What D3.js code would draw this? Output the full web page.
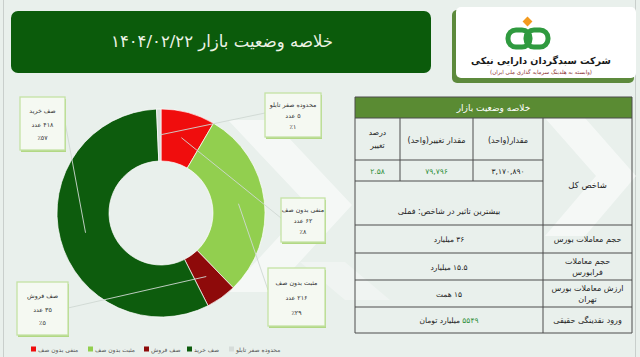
<!DOCTYPE html>
<html><head><meta charset="utf-8">
<script src="https://cdn.jsdelivr.net/npm/d3@7"></script>
<style>
html,body{margin:0;padding:0;background:#e9f0ec;}
svg{display:block;font-family:"DejaVu Sans",sans-serif;}
</style></head>
<body>
<svg id="c" width="640" height="357"></svg>
<script>
// ---------------- DATA ----------------
const titleText = "خلاصه وضعیت بازار ۱۴۰۴/۰۲/۲۲";
const companyName = "شرکت سبدگردان دارایی نیکی";
const companySub = "(وابسته به هلدینگ سرمایه گذاری ملی ایران)";

const categories = ["منفی بدون صف", "مثبت بدون صف", "صف فروش", "صف خرید", "محدوده صفر تابلو"];
const counts = [62, 216, 35, 418, 5];
const percents = [8, 29, 5, 57, 1];
const colors = ["#f00d0d", "#92cf4f", "#8e0a0a", "#0d5c0d", "#d6dcd9"];

const tableTitle = "خلاصه وضعیت بازار";
const indexLabel = "شاخص کل";
const indexColumns = [["مقدار(واحد)"], ["مقدار تغییر(واحد)"], ["درصد", "تغییر"]];
const indexValues = ["۳,۱۷۰,۸۹۰", "۷۹,۷۹۶", "۲.۵۸"];
const topImpact = "بیشترین تاثیر در شاخص: فملی";
const rowLabels = [["حجم معاملات بورس"], ["حجم معاملات", "فرابورس"], ["ارزش معاملات بورس", "تهران"], ["ورود نقدینگی حقیقی"]];
const rowValues = [["", "۳۶ میلیارد"], ["", "۱۵.۵ میلیارد"], ["", "۱۵ همت"], ["۵۵۴۹", " میلیارد تومان"]];

// ---------------- HELPERS ----------------
const fa = s => String(s).replace(/\d/g, d => "۰۱۲۳۴۵۶۷۸۹"[d]);
const svg = d3.select("#c");
const ink = "#222";

// background
svg.append("rect").attr("width", 640).attr("height", 357).attr("fill", "#e9f0ec");
svg.append("rect").attr("x", 3.5).attr("y", -1).attr("width", 632).attr("height", 360)
  .attr("fill", "none").attr("stroke", "#c9cfcc");

// watermark
const wm = svg.append("g").attr("fill", "#ffffff").attr("opacity", 0.55);
wm.append("polygon").attr("points", "228,120 272,120 352,205 272,292 228,292 308,205");
wm.append("polygon").attr("points", "545,118 585,118 636,176 585,236 545,236 596,176");
wm.append("polygon").attr("points", "300,262 345,262 390,300 345,300").attr("opacity", 0.6);

// title bar
svg.append("rect").attr("x", 11).attr("y", 11).attr("width", 420).attr("height", 62)
  .attr("rx", 7).attr("fill", "#0b5b0b");
svg.append("text").attr("x", 222).attr("y", 47).attr("text-anchor", "middle")
  .attr("direction", "rtl").attr("fill", "#eef3e6").attr("font-size", 16.5).text(titleText);

// logo box
svg.append("rect").attr("x", 452).attr("y", 10).attr("width", 182).attr("height", 73)
  .attr("rx", 5).attr("fill", "#5d8a3c");
svg.append("rect").attr("x", 456).attr("y", 7).attr("width", 180).attr("height", 71)
  .attr("rx", 5).attr("fill", "#ffffff");
const logo = svg.append("g");
logo.append("rect").attr("x", 508).attr("y", 30).attr("width", 22).attr("height", 17).attr("rx", 8)
  .attr("fill", "none").attr("stroke", "#2f9a3f").attr("stroke-width", 5);
logo.append("rect").attr("x", 526).attr("y", 30).attr("width", 22).attr("height", 17).attr("rx", 8)
  .attr("fill", "none").attr("stroke", "#2f9a3f").attr("stroke-width", 5);
logo.append("rect").attr("x", 524).attr("y", 18).attr("width", 7).attr("height", 7)
  .attr("transform", "rotate(45 527.5 21.5)").attr("fill", "#f39a1e");
svg.append("text").attr("x", 541).attr("y", 64).attr("text-anchor", "middle").attr("direction", "rtl")
  .attr("font-size", 9.5).attr("font-weight", "bold").attr("fill", "#1a1a1a").text(companyName);
svg.append("text").attr("x", 541).attr("y", 74).attr("text-anchor", "middle").attr("direction", "rtl")
  .attr("font-size", 5.5).attr("fill", "#8a3030").text(companySub);

// ---------------- DONUT ----------------
const cx = 161, cy = 213, rOuter = 104, rInner = 52;
const pie = d3.pie().value(d => d).sort(null).startAngle(0).endAngle(2 * Math.PI);
const arcs = pie(counts);
const arc = d3.arc().innerRadius(rInner).outerRadius(rOuter);
const g = svg.append("g").attr("transform", `translate(${cx},${cy})`);
g.selectAll("path").data(arcs).join("path")
  .attr("d", arc).attr("fill", (d, i) => colors[i])
  .attr("stroke", "#ffffff").attr("stroke-width", 0.7);

// callouts (layout only)
const boxes = [
  {x: 281, y: 198, w: 44, h: 44, ax: 281, ay: 218},
  {x: 268, y: 268, w: 57, h: 58, ax: 268, ay: 290},
  {x: 17, y: 282, w: 51, h: 53, ax: 68, ay: 308},
  {x: 20, y: 97, w: 45, h: 53, ax: 65, ay: 122},
  {x: 265, y: 93, w: 56, h: 44, ax: 265, ay: 113}
];
const lines = svg.append("g");
arcs.forEach((a, i) => {
  const c = arc.centroid(a);
  const b = boxes[i];
  lines.append("line").attr("x1", cx + c[0]).attr("y1", cy + c[1]).attr("x2", b.ax).attr("y2", b.ay)
    .attr("stroke", "#cfd8d3").attr("stroke-width", 0.9);
});
const cg = svg.append("g");
boxes.forEach((b, i) => {
  cg.append("rect").attr("x", b.x + 1).attr("y", b.y + 2).attr("width", b.w).attr("height", b.h)
    .attr("fill", "#b2d884");
  cg.append("rect").attr("x", b.x).attr("y", b.y).attr("width", b.w).attr("height", b.h)
    .attr("fill", "#f5f9f2").attr("stroke", "#c4e2a4").attr("stroke-width", 1.3);
  const t = [categories[i], fa(counts[i]) + " عدد", "٪" + fa(percents[i])];
  [0.25, 0.51, 0.77].forEach((f, k) => {
    cg.append("text").attr("x", b.x + b.w / 2).attr("y", b.y + b.h * f + 2.5)
      .attr("text-anchor", "middle").attr("direction", "rtl")
      .attr("font-size", 6.3).attr("fill", "#333").text(t[k]);
  });
});

// legend
const legendX = [31, 88, 144, 187, 229];
const lg = svg.append("g");
categories.forEach((c, i) => {
  lg.append("rect").attr("x", legendX[i]).attr("y", 346.5).attr("width", 5).attr("height", 5)
    .attr("fill", colors[i]);
  lg.append("text").attr("x", legendX[i] + 7).attr("y", 351.5).attr("text-anchor", "start")
    .attr("font-size", 6).attr("fill", "#555").text(c);
});

// ---------------- TABLE ----------------
const tx = [355, 400, 473, 543, 632];
const ty = [97, 118, 160, 181, 225, 253, 280, 307, 333];
const tb = svg.append("g");
const stroke = "#4d4d4d";
tb.append("rect").attr("x", tx[0]).attr("y", ty[0]).attr("width", tx[4] - tx[0]).attr("height", ty[1] - ty[0])
  .attr("fill", "#5a8b33");
tb.append("text").attr("x", (tx[0] + tx[4]) / 2).attr("y", 111).attr("text-anchor", "middle")
  .attr("direction", "rtl").attr("font-size", 9).attr("fill", "#fff").text(tableTitle);
const L = (x1, y1, x2, y2) => tb.append("line").attr("x1", x1).attr("y1", y1).attr("x2", x2).attr("y2", y2)
  .attr("stroke", stroke).attr("stroke-width", 1);
L(tx[0], ty[0], tx[4], ty[0]);
L(tx[0], ty[0], tx[0], ty[8]); L(tx[4], ty[0], tx[4], ty[8]);
L(tx[0], ty[1], tx[4], ty[1]);
L(tx[1], ty[1], tx[1], ty[3]); L(tx[2], ty[1], tx[2], ty[3]);
L(tx[3], ty[1], tx[3], ty[8]);
L(tx[0], ty[2], tx[3], ty[2]); L(tx[0], ty[3], tx[3], ty[3]);
for (let k = 4; k <= 8; k++) L(tx[0], ty[k], tx[4], ty[k]);

const T = (x, y, s, opts = {}) => tb.append("text").attr("x", x).attr("y", y).attr("text-anchor", "middle")
  .attr("direction", "rtl").attr("font-size", opts.size || 8).attr("fill", opts.fill || ink).text(s);
const colCenters = [(tx[2] + tx[3]) / 2, (tx[1] + tx[2]) / 2, (tx[0] + tx[1]) / 2];
indexColumns.forEach((lns, i) => {
  if (lns.length === 1) T(colCenters[i], 143, lns[0], {size: 8});
  else lns.forEach((s, k) => T(colCenters[i], 135 + k * 13, s, {size: 7.5}));
});
indexValues.forEach((v, i) => T(colCenters[i], 174, v, {size: 7.5, fill: i === 0 ? ink : "#2f8f3a"}));
T((tx[3] + tx[4]) / 2, 188, indexLabel, {size: 8.5});
T((tx[0] + tx[3]) / 2, 214, topImpact, {size: 8});
rowLabels.forEach((lns, i) => {
  const y0 = ty[4 + i], y1 = ty[5 + i], mid = (y0 + y1) / 2;
  if (lns.length === 1) T((tx[3] + tx[4]) / 2, mid + 3, lns[0], {size: 8});
  else lns.forEach((s, k) => T((tx[3] + tx[4]) / 2, mid - 3 + k * 11, s, {size: 8}));
  const vt = tb.append("text").attr("x", (tx[0] + tx[3]) / 2).attr("y", mid + 3).attr("text-anchor", "middle")
    .attr("direction", "rtl").attr("font-size", 7.5).attr("fill", ink);
  if (rowValues[i][0]) vt.append("tspan").attr("fill", "#2f8f3a").text(rowValues[i][0]);
  vt.append("tspan").text(rowValues[i][1]);
});
</script>
</body></html>
